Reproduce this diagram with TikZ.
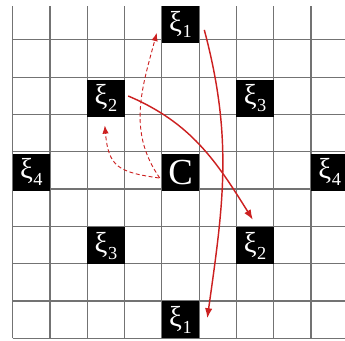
\documentclass[tikz,border=0pt]{standalone}
\usepackage{fontspec}
\setmainfont{Liberation Serif}
\usetikzlibrary{arrows.meta}
\definecolor{jumpred}{HTML}{CC2020}
\definecolor{gridgray}{gray}{0.45}
\newcommand{\xisub}[1]{ξ\kern0.02em\raisebox{-0.5ex}{\fontsize{14}{14}\selectfont #1}}

\begin{document}
\begin{tikzpicture}[x=1cm, y=0.99cm,
  cell/.style={fill=black, text=white, inner sep=0pt,
               minimum width=1cm, minimum height=0.99cm,
               font=\fontsize{22}{22}\selectfont},
  gridline/.style={draw=gridgray, line width=0.9pt},
  jump/.style={-{Latex[length=2.7mm,width=2mm]}, jumpred, line width=1.1pt},
  hop/.style={-{Latex[length=2.2mm,width=1.7mm]}, jumpred, line width=0.7pt,
              densely dashed},
]
\useasboundingbox (-0.34,-0.05) rectangle (8.91,9.16);
\clip (-0.34,-0.05) rectangle (8.91,9.16);
% lattice
\draw[gridline] (0,0) grid (9,9);
% centre and its neighbours
\node[cell, font=\fontsize{28}{28}\selectfont] (c) at (4.5,4.5) {C};
\node[cell] (xi1t) at (4.5,8.5) {\xisub{1}};
\node[cell] (xi1b) at (4.5,0.5) {\xisub{1}};
\node[cell] (xi2t) at (2.5,6.5) {\xisub{2}};
\node[cell] (xi2b) at (6.5,2.5) {\xisub{2}};
\node[cell] (xi3t) at (6.5,6.5) {\xisub{3}};
\node[cell] (xi3b) at (2.5,2.5) {\xisub{3}};
\node[cell] (xi4l) at (0.5,4.5) {\xisub{4}};
\node[cell] (xi4r) at (8.5,4.5) {\xisub{4}};
% solid jumps
\draw[jump] ([shift={(0.13,-0.15)}]xi1t.east)
  to[out=-75, in=82] ([shift={(0.21,0.04)}]xi1b.east);
\draw[jump] ([shift={(0.09,0.06)}]xi2t.east)
  to[out=-23, in=122] ([shift={(-0.06,0.2)}]xi2b.north);
% dashed hops from C
\draw[hop] ([shift={(-0.05,-0.16)}]c.west)
  to[out=125, in=-105] ([shift={(-0.13,-0.23)}]xi1t.west);
\draw[hop] ([shift={(-0.07,-0.16)}]c.west)
  to[out=172, in=-85, looseness=1.4] ([shift={(-0.03,-0.23)}]xi2t.south);
\end{tikzpicture}
\end{document}
